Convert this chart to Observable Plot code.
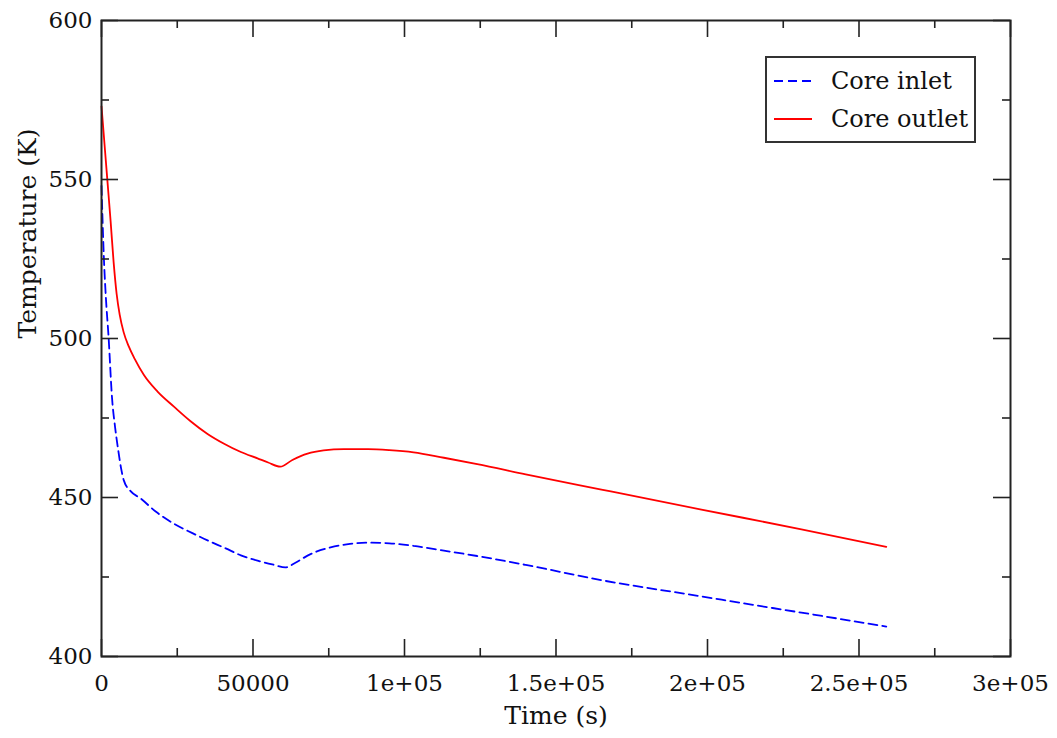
<!DOCTYPE html>
<html>
<head>
<meta charset="utf-8">
<script src="https://cdn.jsdelivr.net/npm/d3@7"></script>
<script src="https://cdn.jsdelivr.net/npm/@observablehq/plot@0.6"></script>
<style>
  html, body { margin: 0; padding: 0; background: #fff; }
  #wrap { position: relative; width: 1057px; height: 738px; font-family: "DejaVu Serif", serif; }
  #legend { position: absolute; left: 765px; top: 56px; width: 207px; height: 83px; border: 2px solid #333; background: #fff; }
  .entry { position: absolute; left: 0; height: 30px; display: flex; align-items: center; font-size: 24px; color: #111; white-space: nowrap; }
  .entry svg { margin-left: 7px; margin-right: 19px; }
</style>
</head>
<body>
<div id="wrap"></div>
<script>
// ---- data ----
const outletTime = [0, 1000, 2000, 3000, 4000, 5000, 6000, 7300, 9000, 11000, 14000, 18500, 24000, 29400, 35000, 40300, 46000, 51500, 55000, 59000, 63000, 68000, 73300, 80000, 88000, 95000, 103000, 113000, 124000, 140000, 165000, 198000, 231000, 259000];
const outletTemp = [573, 561, 549, 537, 524, 514, 507.5, 502, 497.5, 493.5, 488.5, 483.3, 478.5, 474, 470, 467, 464.3, 462.3, 461, 459.7, 461.8, 463.8, 464.8, 465.2, 465.2, 464.9, 464.2, 462.5, 460.5, 457.3, 452.5, 446.2, 440, 434.5];

const inletTime = [0, 800, 1500, 2300, 3500, 4500, 5500, 6500, 7400, 9600, 12900, 18000, 23800, 30000, 35000, 41000, 46000, 52000, 57000, 60700, 64000, 69000, 75600, 82000, 88800, 95000, 103000, 113000, 124000, 140000, 165000, 198000, 214000, 231000, 259000];
const inletTemp = [548, 525, 512, 501, 481, 472, 465, 459, 455.3, 452, 449.7, 445.5, 441.8, 438.8, 436.5, 434, 431.8, 430, 428.8, 428, 429.5, 432.2, 434.3, 435.4, 435.8, 435.6, 434.8, 433.3, 431.6, 428.8, 424, 418.9, 416.4, 413.8, 409.4];

const xMajor = [0, 50000, 100000, 150000, 200000, 250000, 300000];
const xLabels = ["0", "50000", "1e+05", "1.5e+05", "2e+05", "2.5e+05", "3e+05"];
const xMinor = [25000, 75000, 125000, 175000, 225000, 275000];
const yMajor = [400, 450, 500, 550, 600];
const yMinor = [425, 475, 525, 575];
const seriesNames = ["Core inlet", "Core outlet"];
const xTitle = "Time (s)";
const yTitle = "Temperature (K)";

// ---- build ----
const outlet = outletTime.map((t, i) => ({t, v: outletTemp[i]}));
const inlet = inletTime.map((t, i) => ({t, v: inletTemp[i]}));

const W = 1057, H = 738, mL = 101, mR = 47, mT = 20, mB = 82;
const fw = W - mL - mR, fh = H - mT - mB;
const major = 17, minor = 8;
const axisColor = "#222";

const chart = Plot.plot({
  width: W, height: H,
  marginLeft: mL, marginRight: mR, marginTop: mT, marginBottom: mB,
  style: { fontFamily: "DejaVu Serif", fontSize: "23px", color: "#111", background: "#fff" },
  x: { domain: [0, 300000] },
  y: { domain: [400, 600] },
  marks: [
    Plot.line(inlet, { x: "t", y: "v", stroke: "#0000ff", strokeWidth: 1.8, strokeDasharray: "9,5", curve: "monotone-x" }),
    Plot.line(outlet, { x: "t", y: "v", stroke: "#ff0000", strokeWidth: 1.8, curve: "monotone-x" }),
    // inward ticks on all sides
    Plot.tickX(xMajor, { x: d => d, insetTop: fh - major, stroke: axisColor, strokeWidth: 1.6 }),
    Plot.tickX(xMajor, { x: d => d, insetBottom: fh - major, stroke: axisColor, strokeWidth: 1.6 }),
    Plot.tickX(xMinor, { x: d => d, insetTop: fh - minor, stroke: axisColor, strokeWidth: 1.6 }),
    Plot.tickX(xMinor, { x: d => d, insetBottom: fh - minor, stroke: axisColor, strokeWidth: 1.6 }),
    Plot.tickY(yMajor, { y: d => d, insetRight: fw - major, stroke: axisColor, strokeWidth: 1.6 }),
    Plot.tickY(yMajor, { y: d => d, insetLeft: fw - major, stroke: axisColor, strokeWidth: 1.6 }),
    Plot.tickY(yMinor, { y: d => d, insetRight: fw - minor, stroke: axisColor, strokeWidth: 1.6 }),
    Plot.tickY(yMinor, { y: d => d, insetLeft: fw - minor, stroke: axisColor, strokeWidth: 1.6 }),
    Plot.axisX({ ticks: xMajor, tickSize: 0, tickPadding: 18, tickFormat: d => xLabels[xMajor.indexOf(d)], label: null }),
    Plot.axisY({ ticks: yMajor, tickSize: 0, tickPadding: 9, label: null }),
    Plot.text([xTitle], { frameAnchor: "bottom", dy: 59, text: d => d, lineAnchor: "middle", fontSize: 25 }),
    Plot.text([yTitle], { frameAnchor: "left", dx: -74, rotate: -90, text: d => d, lineAnchor: "middle", fontSize: 25 }),
    Plot.frame({ stroke: axisColor, strokeWidth: 2 })
  ]
});

const wrap = document.getElementById("wrap");
wrap.appendChild(chart);

// legend
const legend = document.createElement("div");
legend.id = "legend";
const styles = [
  { stroke: "#0000ff", dash: "9,5" },
  { stroke: "#ff0000", dash: null }
];
seriesNames.forEach((name, i) => {
  const e = document.createElement("div");
  e.className = "entry";
  e.style.top = (i === 0 ? 8 : 46) + "px";
  const svg = `<svg width="38" height="10"><line x1="0" y1="5" x2="38" y2="5" stroke="${styles[i].stroke}" stroke-width="1.8" ${styles[i].dash ? `stroke-dasharray="${styles[i].dash}"` : ""}/></svg>`;
  e.innerHTML = svg + `<span>${name}</span>`;
  legend.appendChild(e);
});
wrap.appendChild(legend);
</script>
</body>
</html>
